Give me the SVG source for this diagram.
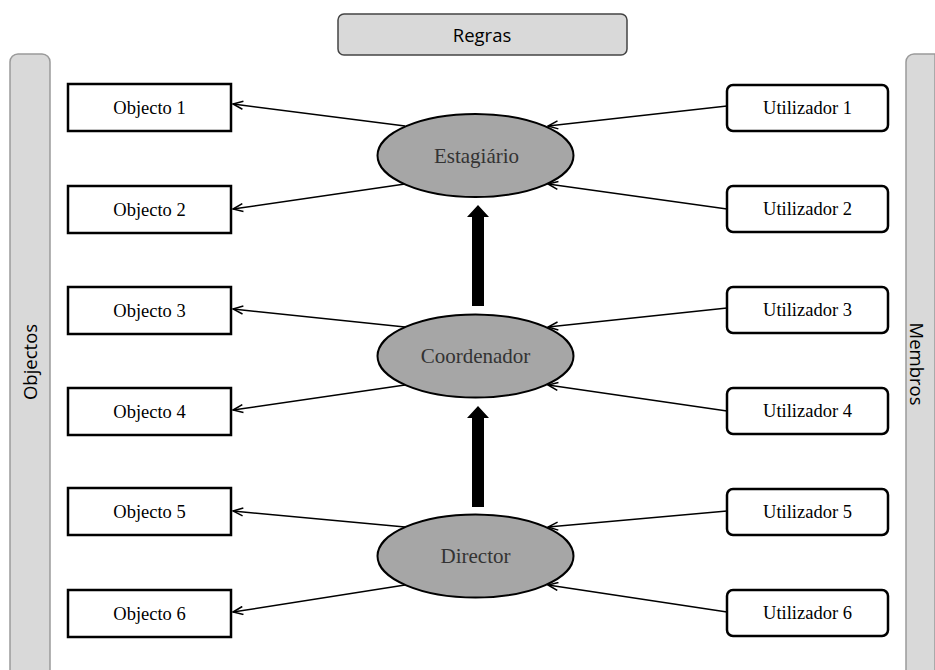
<svg xmlns="http://www.w3.org/2000/svg" width="935" height="670" viewBox="0 0 935 670">
<style>
.bar{fill:#d9d9d9;stroke:#9a9a9a;stroke-width:1.5}
.obj{fill:#fff;stroke:#000;stroke-width:2.5}
.usr{fill:#fff;stroke:#000;stroke-width:2.5}
.role{fill:#a6a6a6;stroke:#000;stroke-width:2}
.t{font-family:"Liberation Serif",serif;font-size:18.5px;text-anchor:middle;fill:#000}
.rt{font-family:"Liberation Serif",serif;font-size:21px;text-anchor:middle;fill:#333}
.s{font-family:"Open Sans","Liberation Sans",sans-serif;font-size:18.5px;text-anchor:middle;fill:#000}
.c{stroke:#000;stroke-width:1.5;fill:none;marker-end:url(#ah)}
</style>
<defs>
<marker id="ah" viewBox="0 0 12 10" refX="11" refY="5" markerWidth="12" markerHeight="10" markerUnits="userSpaceOnUse" orient="auto">
<path d="M1,1 L11,5 L1,9" fill="none" stroke="#000" stroke-width="1.5"/>
</marker>
</defs>
<g id="regras"><rect x="338" y="14" width="289" height="41" rx="6" class="bar" style="stroke:#444"/><text x="482" y="42" class="s">Regras</text></g>
<g id="objectos"><path d="M10,680 V62 a8,8 0 0 1 8,-8 H42 a8,8 0 0 1 8,8 V680 Z" class="bar"/><text transform="translate(37,362) rotate(-90)" class="s">Objectos</text></g>
<g id="membros"><path d="M906,680 V62 a8,8 0 0 1 8,-8 H935 V680 Z" class="bar"/><text transform="translate(910,364) rotate(90)" class="s">Membros</text></g>
<g id="objecto1"><rect x="68" y="84" width="163" height="47" class="obj"/><text x="149.5" y="114" class="t">Objecto 1</text></g>
<g id="objecto2"><rect x="68" y="186" width="163" height="47" class="obj"/><text x="149.5" y="216" class="t">Objecto 2</text></g>
<g id="objecto3"><rect x="68" y="287" width="163" height="47" class="obj"/><text x="149.5" y="317" class="t">Objecto 3</text></g>
<g id="objecto4"><rect x="68" y="388" width="163" height="47" class="obj"/><text x="149.5" y="418" class="t">Objecto 4</text></g>
<g id="objecto5"><rect x="68" y="488" width="163" height="47" class="obj"/><text x="149.5" y="518" class="t">Objecto 5</text></g>
<g id="objecto6"><rect x="68" y="590" width="163" height="47" class="obj"/><text x="149.5" y="620" class="t">Objecto 6</text></g>
<g id="utilizador1"><rect x="727" y="85" width="161" height="46" rx="6" class="usr"/><text x="807.5" y="114" class="t">Utilizador 1</text></g>
<g id="utilizador2"><rect x="727" y="186" width="161" height="46" rx="6" class="usr"/><text x="807.5" y="215" class="t">Utilizador 2</text></g>
<g id="utilizador3"><rect x="727" y="287" width="161" height="46" rx="6" class="usr"/><text x="807.5" y="316" class="t">Utilizador 3</text></g>
<g id="utilizador4"><rect x="727" y="388" width="161" height="46" rx="6" class="usr"/><text x="807.5" y="417" class="t">Utilizador 4</text></g>
<g id="utilizador5"><rect x="727" y="489" width="161" height="46" rx="6" class="usr"/><text x="807.5" y="518" class="t">Utilizador 5</text></g>
<g id="utilizador6"><rect x="727" y="590" width="161" height="46" rx="6" class="usr"/><text x="807.5" y="619" class="t">Utilizador 6</text></g>
<g id="connectors">
<line x1="405" y1="126" x2="233" y2="104" class="c"/>
<line x1="405" y1="184" x2="233" y2="209" class="c"/>
<line x1="727" y1="106" x2="548" y2="126" class="c"/>
<line x1="727" y1="209" x2="548" y2="184" class="c"/>
<line x1="405" y1="327" x2="233" y2="309" class="c"/>
<line x1="405" y1="385" x2="233" y2="410" class="c"/>
<line x1="727" y1="308" x2="548" y2="327" class="c"/>
<line x1="727" y1="411" x2="548" y2="385" class="c"/>
<line x1="405" y1="527" x2="233" y2="511" class="c"/>
<line x1="405" y1="585" x2="233" y2="612" class="c"/>
<line x1="727" y1="511" x2="548" y2="527" class="c"/>
<line x1="727" y1="612" x2="548" y2="585" class="c"/>
<path d="M472,306 V217 H467 L478,205 L489,217 H484 V306 Z" fill="#000"/>
<path d="M472,507 V418 H467 L478,406 L489,418 H484 V507 Z" fill="#000"/>
</g>
<g id="estagiario"><ellipse cx="475.5" cy="155.5" rx="98" ry="41.5" class="role"/><text x="476.5" y="162.5" class="rt">Estagiário</text></g>
<g id="coordenador"><ellipse cx="475.5" cy="356" rx="98" ry="41.5" class="role"/><text x="475.5" y="363" class="rt">Coordenador</text></g>
<g id="director"><ellipse cx="475.5" cy="556" rx="98" ry="41.5" class="role"/><text x="475.5" y="563" class="rt">Director</text></g>
</svg>
